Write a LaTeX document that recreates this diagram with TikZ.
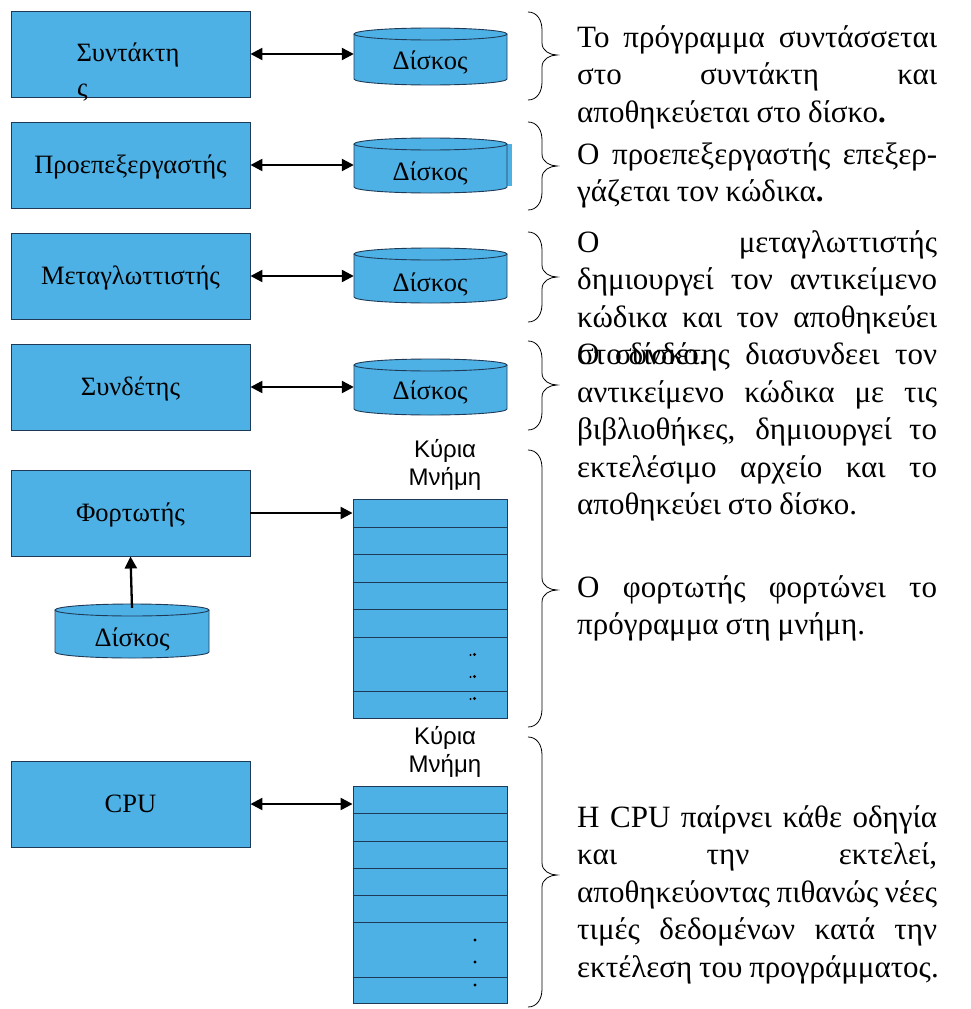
\documentclass[tikz,border=0pt]{standalone}
\usepackage{fontspec}
\setmainfont{Liberation Serif}
\setsansfont{Liberation Sans}
\usetikzlibrary{arrows.meta,calc}
\definecolor{boxblue}{HTML}{4DB1E6}
\definecolor{edgeline}{HTML}{1F3A56}

% justified line of the side notes
\newcommand\jline[1]{\hbox to 360pt{#1}}
\newcommand\nline[1]{\hbox{#1}}
\newcommand\notetext[1]{\vtop{\baselineskip=37.5pt\lineskiplimit=-100pt\lineskip=0pt
  \spaceskip=0.22em plus 20em minus 0.04em #1}}

% cylinder "disk": name, left, right, top, bottom
\newcommand\drawdisk[5]{%
  \pgfmathsetmacro\dcx{(#2+#3)/2}%
  \pgfmathsetmacro\drx{(#3-#2)/2}%
  \pgfmathsetmacro\dty{#4+6}%
  \pgfmathsetmacro\dby{#5-6}%
  \path[fill=boxblue] (#2,\dty) -- (#2,\dby)
    .. controls (#2,{\dby+3.3}) and ({\dcx-0.5523*\drx},#5) .. (\dcx,#5)
    .. controls ({\dcx+0.5523*\drx},#5) and (#3,{\dby+3.3}) .. (#3,\dby)
    -- (#3,\dty) -- cycle;
  \draw[edgeline,line width=0.9pt] (#2,\dty) -- (#2,\dby)
    .. controls (#2,{\dby+3.3}) and ({\dcx-0.5523*\drx},#5) .. (\dcx,#5)
    .. controls ({\dcx+0.5523*\drx},#5) and (#3,{\dby+3.3}) .. (#3,\dby)
    -- (#3,\dty);
  \draw[edgeline,fill=boxblue,line width=0.9pt] (\dcx,\dty) ellipse [x radius=\drx pt, y radius=6pt];
  \node[inner sep=0pt,minimum width={(#3-#2)*1pt},minimum height={(#5-#4)*1pt}] (#1) at (\dcx,{(#4+#5)/2}) {};
}

% curly brace: top, tip, bottom
\newcommand\drawbrace[3]{%
  \draw[line width=0.8pt] (528,#1)
    .. controls (537,#1) and (542,{#1+8}) .. (542,{#1+18})
    -- (542,{#2-12})
    .. controls (542,{#2-4}) and (550,#2) .. (557,#2)
    .. controls (550,#2) and (542,{#2+4}) .. (542,{#2+12})
    -- (542,{#3-18})
    .. controls (542,{#3-8}) and (537,#3) .. (528,#3);
}

\begin{document}
\begin{tikzpicture}[x=1pt,y=-1pt,
  procbox/.style={draw=edgeline,fill=boxblue,line width=0.9pt,minimum width=239pt,
    minimum height=86pt,inner sep=0pt,text height=23pt,text depth=6pt,
    font=\fontsize{26.5}{30}\selectfont},
  boxtext/.style={inner sep=0pt,font=\fontsize{26.5}{30}\selectfont},
  disklabel/.style={inner sep=0pt,font=\fontsize{26.5}{30}\selectfont},
  memlabel/.style={inner sep=0pt,align=center,font=\sffamily\fontsize{24}{27.5}\selectfont},
  memnode/.style={draw=edgeline,fill=boxblue,line width=0.9pt,inner sep=0pt,minimum width=154pt},
  memrow/.style={edgeline,line width=1pt},
  link/.style={line width=2.3pt,{Triangle[length=12pt,width=12pt]}-{Triangle[length=12pt,width=12pt]}},
  onelink/.style={line width=2.3pt,-{Triangle[length=12pt,width=12pt]}},
  note/.style={anchor=base west,inner sep=0pt,font=\fontsize{31}{37.5}\selectfont},
  dotmark/.style={fill=black}
]
\useasboundingbox (0,0) rectangle (970,1009);

% ---- processing stages ----
\node[procbox] (ed) at (130.5,54) {};
\node[boxtext,anchor=base] (edt) at (128,61) {Συντάκτη};
\node[boxtext,anchor=base west] (eds) at (77,96) {ς};
\node[procbox] (pp) at (130.5,165) {Προεπεξεργαστής};
\node[procbox] (cc) at (130.5,276) {Μεταγλωττιστής};
\node[procbox] (ln) at (130.5,387) {Συνδέτης};
\node[procbox] (ld) at (130.5,513) {Φορτωτής};
\node[procbox] (cpu) at (130.5,804) {CPU};

% ---- disks ----
\drawdisk{d1}{354}{507}{28}{85}
\path[fill=boxblue] (507,144) rectangle (512,186);
\drawdisk{d2}{354}{507}{138}{193}
\drawdisk{d3}{354}{507}{248}{303}
\drawdisk{d4}{354}{507}{359}{415}
\drawdisk{d5}{55}{209}{604}{658}
\node[disklabel] (d1t) at (430,62) {Δίσκος};
\node[disklabel] (d2t) at (430,173) {Δίσκος};
\node[disklabel] (d3t) at (430,284) {Δίσκος};
\node[disklabel] (d4t) at (430,392) {Δίσκος};
\node[disklabel] (d5t) at (132,639) {Δίσκος};

% ---- main memory ----
\node[memlabel] (m1l) at (445,465) {Κύρια\\Μνήμη};
\node[memnode,minimum height=219pt] (m1) at (430,608.5) {};
\foreach \yy in {527,554,582,609,637,691} \draw[memrow] (353,\yy) -- (507,\yy);
\foreach \yy in {655,677,699} {
  \fill[dotmark] (470.5,\yy) circle (1.1pt);
  \fill[dotmark] (474.5,{\yy-0.5}) circle (1.6pt);
}
\node[memlabel] (m2l) at (445,752) {Κύρια\\Μνήμη};
\node[memnode,minimum height=217pt] (m2) at (430,894.5) {};
\foreach \yy in {813,841,868,895,922,977} \draw[memrow] (353,\yy) -- (507,\yy);
\foreach \yy in {940,962,985} \fill[dotmark] (475,\yy) circle (1.6pt);

% ---- connectors ----
\draw[link] (ed.east) -- (ed.east -| d1.west);
\draw[link] (pp.east) -- (pp.east -| d2.west);
\draw[link] (cc.east) -- (cc.east -| d3.west);
\draw[link] (ln.east) -- (ln.east -| d4.west);
\draw[onelink] (ld.east) -- (ld.east -| m1.west);
\draw[onelink] ([yshift=-4pt]d5.north) -- (ld.south);
\draw[link] (cpu.east) -- (cpu.east -| m2.west);

% ---- braces ----
\drawbrace{12}{55}{100}
\drawbrace{122}{166}{210}
\drawbrace{232}{277}{322}
\drawbrace{341}{385}{430}
\drawbrace{450}{590}{727}
\drawbrace{737}{875}{1007}

% ---- side notes ----
\node[note] (n1) at (577,47) {\notetext{%
  \jline{Το πρόγραμμα συντάσσεται}
  \jline{στο συντάκτη και}
  \nline{αποθηκεύεται στο δίσκο\textbf{.}}}};
\node[note] (n2) at (577,164) {\notetext{%
  \jline{Ο προεπεξεργαστής επεξερ-}
  \nline{γάζεται τον κώδικα\textbf{.}}}};
\node[note] (n3) at (577,252) {\notetext{%
  \jline{Ο μεταγλωττιστής}
  \jline{δημιουργεί τον αντικείμενο}
  \jline{κώδικα και τον αποθηκεύει}
  \nline{στο δίσκο.}}};
\node[note] (n4) at (577,364.5) {\notetext{%
  \jline{Ο συνδέτης διασυνδεει τον}
  \jline{αντικείμενο κώδικα με τις}
  \jline{βιβλιοθήκες, δημιουργεί το}
  \jline{εκτελέσιμο αρχείο και το}
  \nline{αποθηκεύει στο δίσκο.}}};
\node[note] (n5) at (577,597) {\notetext{%
  \jline{Ο φορτωτής φορτώνει το}
  \nline{πρόγραμμα στη μνήμη.}}};
\node[note] (n6) at (577,827) {\notetext{%
  \jline{Η CPU παίρνει κάθε οδηγία}
  \jline{και την εκτελεί,}
  \jline{αποθηκεύοντας πιθανώς νέες}
  \jline{τιμές δεδομένων κατά την}
  \nline{εκτέλεση του προγράμματος.}}};
\end{tikzpicture}
\end{document}
